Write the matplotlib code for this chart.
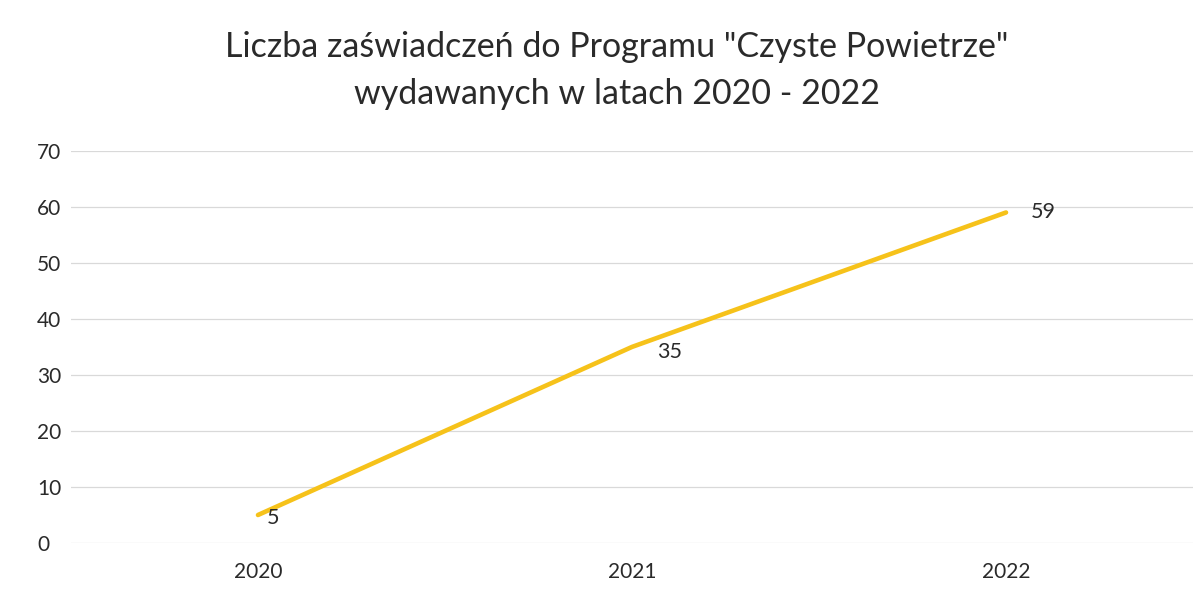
import matplotlib
matplotlib.use("Agg")
import matplotlib.pyplot as plt

years = ["2020", "2021", "2022"]
values = [5, 35, 59]
yticks = [0, 10, 20, 30, 40, 50, 60, 70]
title = 'Liczba zaświadczeń do Programu "Czyste Powietrze"\nwydawanych w latach 2020 - 2022'

plt.rcParams['font.family'] = ['Lato', 'DejaVu Sans']
fig = plt.figure(figsize=(11.93, 6.01), dpi=100)
ax = fig.add_axes([0.0595, 0.0965, 0.9405, 0.6525])

x = list(range(len(years)))
ax.plot(x, values, color='#F6C21A', linewidth=3.3, solid_capstyle='round')
label_offsets = [(6, -2), (18, -4), (18, 0)]
for xi, v, off in zip(x, values, label_offsets):
    ax.annotate(str(v), (xi, v), xytext=off, textcoords='offset points',
                ha='left', va='center', fontsize=15.5, color='#2a2a2a')

ax.set_xlim(-0.5, 2.5)
ax.set_ylim(0, 70)
ax.set_yticks(yticks)
ax.set_xticks(x)
ax.set_xticklabels(years)
ax.tick_params(axis='both', length=0, labelsize=15, labelcolor='#2a2a2a')
ax.tick_params(axis='y', pad=24.5)
for lbl in ax.get_yticklabels():
    lbl.set_horizontalalignment('left')
ax.tick_params(axis='x', pad=14)
ax.grid(axis='y', color='#d9d9d9', linewidth=0.9)
ax.set_axisbelow(True)
for s in ax.spines.values():
    s.set_visible(False)

fig.text(0.517, 0.948, title, ha='center', va='top', fontsize=24.5, color='#2a2a2a', linespacing=1.55)
fig.savefig("out.png", dpi=100)
